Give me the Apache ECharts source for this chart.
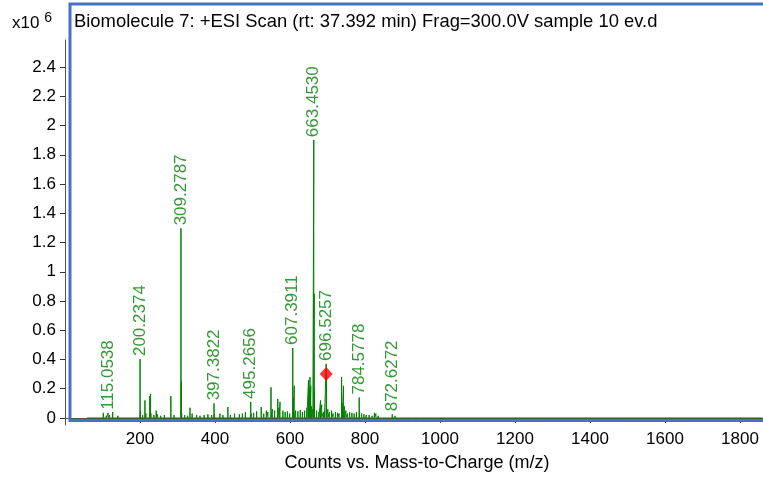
<!DOCTYPE html>
<html><head><meta charset="utf-8">
<script src="https://cdn.jsdelivr.net/npm/echarts@6/dist/echarts.min.js"></script>
<style>html,body{margin:0;padding:0;background:#fff}#c{width:763px;height:479px}</style>
</head><body><div id="c"></div>
<script>
// Labeled peaks (intensity in x10^6 counts)
const labeledMz = [115.0538, 200.2374, 309.2787, 397.3822, 495.2656, 607.3911, 663.4530, 696.5257, 784.5778, 872.6272];
const labeledInt = [0.035, 0.403, 1.297, 0.10, 0.11, 0.479, 1.90, 0.37, 0.14, 0.025];
const labeledText = ["115.0538", "200.2374", "309.2787", "397.3822", "495.2656", "607.3911", "663.4530", "696.5257", "784.5778", "872.6272"];
// Unlabeled peaks
const minorMz = [59, 102.1, 110, 119, 127.1, 133, 141, 155, 170, 185, 201.24, 207, 213.2, 216, 226.2, 228.2, 229.2, 237, 243.2, 247, 255, 265, 271, 282.3, 291, 310.28, 311.3, 319, 327, 333.3, 339, 351, 360, 371, 381, 391, 398.4, 413, 421, 434.3, 441, 452, 465, 473, 481, 496.3, 503, 511, 523.3, 530, 537, 541, 549.3, 553, 559, 567.4, 571, 573.4, 581, 587, 593, 599, 608.4, 611.4, 615, 621, 627.4, 633, 639, 645, 649.4, 651.4, 653.4, 655.4, 657, 661, 664.46, 665.46, 671, 677, 681.5, 684.5, 689, 692, 697.53, 701, 705, 711, 715, 721, 727, 731, 737.5, 739.5, 742.5, 745, 749, 753, 759, 765, 771, 777, 785.58, 791, 797, 803, 811, 819, 825, 829, 835, 843, 851, 859, 866, 880, 893, 907, 925, 945, 968, 990, 1020, 1050, 1090, 1130, 1170, 1200, 1240, 1290, 1330, 1370, 1420, 1470, 1520, 1560, 1600, 1640, 1690, 1730, 1780, 1830, 1860];
const minorInt = [0.008, 0.035, 0.015, 0.02, 0.04, 0.012, 0.015, 0.01, 0.008, 0.012, 0.05, 0.02, 0.12, 0.03, 0.15, 0.165, 0.03, 0.02, 0.05, 0.025, 0.015, 0.02, 0.012, 0.15, 0.02, 0.25, 0.03, 0.02, 0.015, 0.07, 0.03, 0.02, 0.015, 0.02, 0.025, 0.02, 0.025, 0.03, 0.02, 0.075, 0.02, 0.03, 0.025, 0.03, 0.04, 0.03, 0.035, 0.045, 0.075, 0.03, 0.05, 0.04, 0.21, 0.06, 0.05, 0.13, 0.07, 0.11, 0.05, 0.04, 0.045, 0.03, 0.14, 0.22, 0.05, 0.045, 0.055, 0.04, 0.05, 0.07, 0.26, 0.2, 0.28, 0.22, 0.08, 0.06, 0.85, 0.2, 0.05, 0.04, 0.12, 0.09, 0.04, 0.05, 0.30, 0.06, 0.04, 0.05, 0.03, 0.04, 0.035, 0.03, 0.28, 0.1, 0.22, 0.08, 0.05, 0.03, 0.04, 0.035, 0.03, 0.04, 0.04, 0.03, 0.025, 0.02, 0.02, 0.015, 0.035, 0.03, 0.015, 0.01, 0.012, 0.01, 0.008, 0.015, 0.008, 0.006, 0.01, 0.005, 0.006, 0.004, 0.004, 0.003, 0.004, 0.003, 0.003, 0.003, 0.003, 0.004, 0.006, 0.003, 0.003, 0.003, 0.003, 0.003, 0.002, 0.003, 0.002, 0.002, 0.002, 0.002, 0];
// Precursor marker
const precursorMz = [696.5257];
const precursorInt = [0.30];
// Axis ticks
const xTicks = [200, 400, 600, 800, 1000, 1200, 1400, 1600, 1800];
const yTicks = [0, 0.2, 0.4, 0.6, 0.8, 1, 1.2, 1.4, 1.6, 1.8, 2, 2.2, 2.4];

const all = [];
labeledMz.forEach((m, i) => all.push([m, labeledInt[i]]));
minorMz.forEach((m, i) => all.push([m, minorInt[i]]));
all.sort((a, b) => a[0] - b[0]);
const stick = [];
all.forEach(p => { stick.push([p[0], 0]); stick.push([p[0], p[1]]); stick.push([p[0], 0]); });

const FONT = '"Liberation Sans", Arial, sans-serif';
const green = '#008000';
const chart = echarts.init(document.getElementById('c'), null, {renderer: 'canvas'});
chart.setOption({
  animation: false,
  grid: {left: 65, right: 0.5, top: 40, bottom: 54, containLabel: false},
  xAxis: {
    type: 'value', min: 0, max: 1860,
    axisLine: {show: true, lineStyle: {color: '#555', width: 1}},
    axisTick: {show: true, length: 5, customValues: xTicks, lineStyle: {color: '#333'}},
    axisLabel: {customValues: xTicks, fontSize: 17, color: '#000', fontFamily: FONT, margin: 6, formatter: v => String(v)},
    splitLine: {show: false}
  },
  yAxis: {
    type: 'value', min: -0.048, max: 2.585,
    axisLine: {show: true, lineStyle: {color: '#555', width: 1}},
    axisTick: {show: true, length: 5, customValues: yTicks, lineStyle: {color: '#333'}},
    axisLabel: {customValues: yTicks, fontSize: 17, color: '#000', fontFamily: FONT, margin: 9, formatter: v => String(v)},
    splitLine: {show: false}
  },
  series: [
    {type: 'line', data: stick, showSymbol: false, symbol: 'none', lineStyle: {color: green, width: 1}, z: 2, silent: true},
    {type: 'scatter', data: labeledMz.map((m, i) => [m, labeledInt[i]]), symbolSize: 0,
      label: {show: true, position: 'top', rotate: 90, align: 'left', verticalAlign: 'middle', distance: 3,
        color: green, fontSize: 17, fontFamily: FONT,
        formatter: p => labeledText[p.dataIndex]}, z: 3},
    {type: 'scatter', data: precursorMz.map((m, i) => [m, precursorInt[i]]), symbol: 'diamond', symbolSize: [13, 14],
      itemStyle: {color: '#ff0000'}, z: 4}
  ],
  graphic: [
    {type: 'rect', shape: {x: 70, y: 4, width: 800, height: 416.5}, style: {fill: 'none', stroke: '#4472C4', lineWidth: 3}, z: 100},
    {type: 'text', x: 74, y: 22, style: {text: 'Biomolecule 7: +ESI Scan (rt: 37.392 min) Frag=300.0V sample 10 ev.d', font: '18.4px ' + FONT, fill: '#000', verticalAlign: 'middle'}, z: 101},
    {type: 'text', x: 12, y: 23, style: {text: 'x10 {s|6}', font: '17px ' + FONT, fill: '#000', verticalAlign: 'middle', rich: {s: {fontSize: 14, fontFamily: FONT, verticalAlign: 'top', padding: [0, 0, 10, 0]}}}, z: 101},
    {type: 'text', x: 417, y: 463, style: {text: 'Counts vs. Mass-to-Charge (m/z)', font: '18px ' + FONT, fill: '#000', align: 'center', verticalAlign: 'middle'}, z: 101}
  ]
});
</script></body></html>
